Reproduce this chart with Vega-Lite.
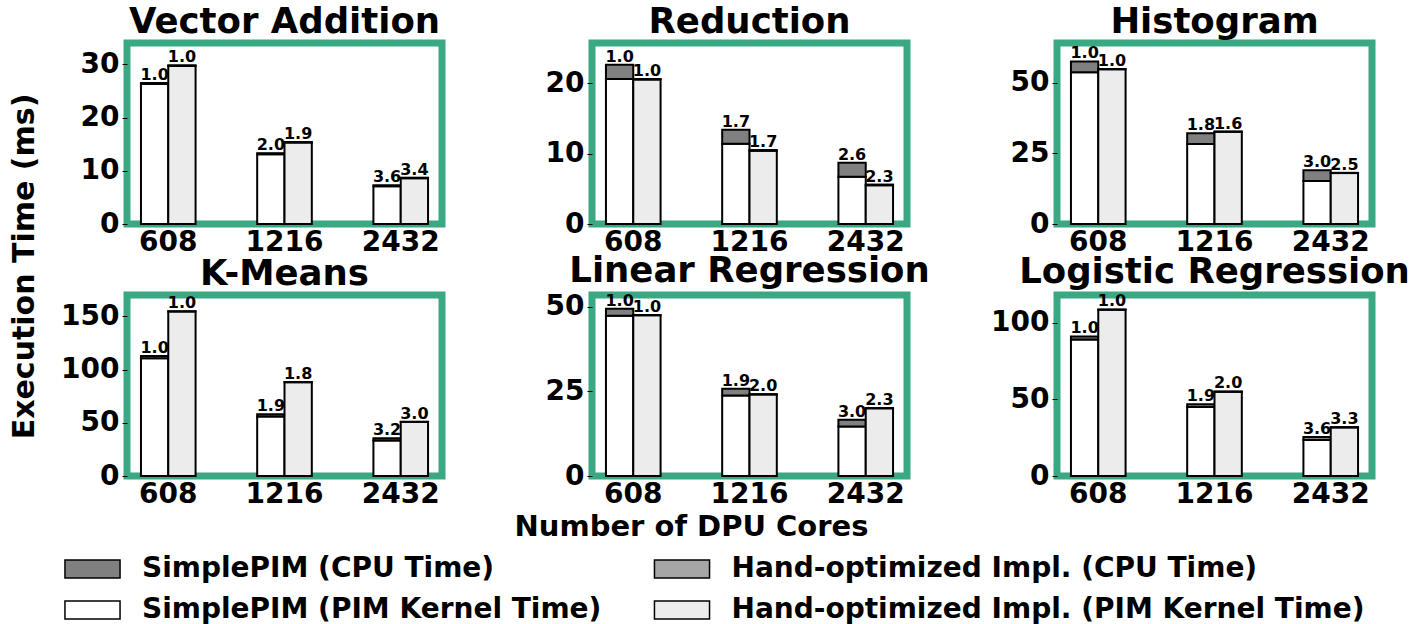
{
  "$schema": "https://vega.github.io/schema/vega-lite/v6.json",
  "padding": {"left": 5, "top": 1, "right": 5, "bottom": 5},
  "data": {"values": [
    {"app": "Vector Addition", "cores": "608", "impl": "SimplePIM", "part": "PIM Kernel Time", "series": "SimplePIM (PIM Kernel Time)", "time": 26.3, "speedup": "1.0"},
    {"app": "Vector Addition", "cores": "608", "impl": "SimplePIM", "part": "CPU Time", "series": "SimplePIM (CPU Time)", "time": 0.2, "speedup": "1.0"},
    {"app": "Vector Addition", "cores": "1216", "impl": "SimplePIM", "part": "PIM Kernel Time", "series": "SimplePIM (PIM Kernel Time)", "time": 13.1, "speedup": "2.0"},
    {"app": "Vector Addition", "cores": "1216", "impl": "SimplePIM", "part": "CPU Time", "series": "SimplePIM (CPU Time)", "time": 0.2, "speedup": "2.0"},
    {"app": "Vector Addition", "cores": "2432", "impl": "SimplePIM", "part": "PIM Kernel Time", "series": "SimplePIM (PIM Kernel Time)", "time": 7.1, "speedup": "3.6"},
    {"app": "Vector Addition", "cores": "2432", "impl": "SimplePIM", "part": "CPU Time", "series": "SimplePIM (CPU Time)", "time": 0.2, "speedup": "3.6"},
    {"app": "Vector Addition", "cores": "608", "impl": "Hand-optimized Impl.", "part": "PIM Kernel Time", "series": "Hand-optimized Impl. (PIM Kernel Time)", "time": 29.7, "speedup": "1.0"},
    {"app": "Vector Addition", "cores": "608", "impl": "Hand-optimized Impl.", "part": "CPU Time", "series": "Hand-optimized Impl. (CPU Time)", "time": 0.1, "speedup": "1.0"},
    {"app": "Vector Addition", "cores": "1216", "impl": "Hand-optimized Impl.", "part": "PIM Kernel Time", "series": "Hand-optimized Impl. (PIM Kernel Time)", "time": 15.3, "speedup": "1.9"},
    {"app": "Vector Addition", "cores": "1216", "impl": "Hand-optimized Impl.", "part": "CPU Time", "series": "Hand-optimized Impl. (CPU Time)", "time": 0.1, "speedup": "1.9"},
    {"app": "Vector Addition", "cores": "2432", "impl": "Hand-optimized Impl.", "part": "PIM Kernel Time", "series": "Hand-optimized Impl. (PIM Kernel Time)", "time": 8.6, "speedup": "3.4"},
    {"app": "Vector Addition", "cores": "2432", "impl": "Hand-optimized Impl.", "part": "CPU Time", "series": "Hand-optimized Impl. (CPU Time)", "time": 0.1, "speedup": "3.4"},

    {"app": "Reduction", "cores": "608", "impl": "SimplePIM", "part": "PIM Kernel Time", "series": "SimplePIM (PIM Kernel Time)", "time": 20.6, "speedup": "1.0"},
    {"app": "Reduction", "cores": "608", "impl": "SimplePIM", "part": "CPU Time", "series": "SimplePIM (CPU Time)", "time": 2.0, "speedup": "1.0"},
    {"app": "Reduction", "cores": "1216", "impl": "SimplePIM", "part": "PIM Kernel Time", "series": "SimplePIM (PIM Kernel Time)", "time": 11.4, "speedup": "1.7"},
    {"app": "Reduction", "cores": "1216", "impl": "SimplePIM", "part": "CPU Time", "series": "SimplePIM (CPU Time)", "time": 2.0, "speedup": "1.7"},
    {"app": "Reduction", "cores": "2432", "impl": "SimplePIM", "part": "PIM Kernel Time", "series": "SimplePIM (PIM Kernel Time)", "time": 6.7, "speedup": "2.6"},
    {"app": "Reduction", "cores": "2432", "impl": "SimplePIM", "part": "CPU Time", "series": "SimplePIM (CPU Time)", "time": 2.0, "speedup": "2.6"},
    {"app": "Reduction", "cores": "608", "impl": "Hand-optimized Impl.", "part": "PIM Kernel Time", "series": "Hand-optimized Impl. (PIM Kernel Time)", "time": 20.5, "speedup": "1.0"},
    {"app": "Reduction", "cores": "608", "impl": "Hand-optimized Impl.", "part": "CPU Time", "series": "Hand-optimized Impl. (CPU Time)", "time": 0.1, "speedup": "1.0"},
    {"app": "Reduction", "cores": "1216", "impl": "Hand-optimized Impl.", "part": "PIM Kernel Time", "series": "Hand-optimized Impl. (PIM Kernel Time)", "time": 10.4, "speedup": "1.7"},
    {"app": "Reduction", "cores": "1216", "impl": "Hand-optimized Impl.", "part": "CPU Time", "series": "Hand-optimized Impl. (CPU Time)", "time": 0.1, "speedup": "1.7"},
    {"app": "Reduction", "cores": "2432", "impl": "Hand-optimized Impl.", "part": "PIM Kernel Time", "series": "Hand-optimized Impl. (PIM Kernel Time)", "time": 5.5, "speedup": "2.3"},
    {"app": "Reduction", "cores": "2432", "impl": "Hand-optimized Impl.", "part": "CPU Time", "series": "Hand-optimized Impl. (CPU Time)", "time": 0.1, "speedup": "2.3"},

    {"app": "Histogram", "cores": "608", "impl": "SimplePIM", "part": "PIM Kernel Time", "series": "SimplePIM (PIM Kernel Time)", "time": 53.7, "speedup": "1.0"},
    {"app": "Histogram", "cores": "608", "impl": "SimplePIM", "part": "CPU Time", "series": "SimplePIM (CPU Time)", "time": 3.8, "speedup": "1.0"},
    {"app": "Histogram", "cores": "1216", "impl": "SimplePIM", "part": "PIM Kernel Time", "series": "SimplePIM (PIM Kernel Time)", "time": 28.3, "speedup": "1.8"},
    {"app": "Histogram", "cores": "1216", "impl": "SimplePIM", "part": "CPU Time", "series": "SimplePIM (CPU Time)", "time": 3.8, "speedup": "1.8"},
    {"app": "Histogram", "cores": "2432", "impl": "SimplePIM", "part": "PIM Kernel Time", "series": "SimplePIM (PIM Kernel Time)", "time": 15.2, "speedup": "3.0"},
    {"app": "Histogram", "cores": "2432", "impl": "SimplePIM", "part": "CPU Time", "series": "SimplePIM (CPU Time)", "time": 3.8, "speedup": "3.0"},
    {"app": "Histogram", "cores": "608", "impl": "Hand-optimized Impl.", "part": "PIM Kernel Time", "series": "Hand-optimized Impl. (PIM Kernel Time)", "time": 54.7, "speedup": "1.0"},
    {"app": "Histogram", "cores": "608", "impl": "Hand-optimized Impl.", "part": "CPU Time", "series": "Hand-optimized Impl. (CPU Time)", "time": 0.1, "speedup": "1.0"},
    {"app": "Histogram", "cores": "1216", "impl": "Hand-optimized Impl.", "part": "PIM Kernel Time", "series": "Hand-optimized Impl. (PIM Kernel Time)", "time": 32.6, "speedup": "1.6"},
    {"app": "Histogram", "cores": "1216", "impl": "Hand-optimized Impl.", "part": "CPU Time", "series": "Hand-optimized Impl. (CPU Time)", "time": 0.1, "speedup": "1.6"},
    {"app": "Histogram", "cores": "2432", "impl": "Hand-optimized Impl.", "part": "PIM Kernel Time", "series": "Hand-optimized Impl. (PIM Kernel Time)", "time": 18.0, "speedup": "2.5"},
    {"app": "Histogram", "cores": "2432", "impl": "Hand-optimized Impl.", "part": "CPU Time", "series": "Hand-optimized Impl. (CPU Time)", "time": 0.1, "speedup": "2.5"},

    {"app": "K-Means", "cores": "608", "impl": "SimplePIM", "part": "PIM Kernel Time", "series": "SimplePIM (PIM Kernel Time)", "time": 110.6, "speedup": "1.0"},
    {"app": "K-Means", "cores": "608", "impl": "SimplePIM", "part": "CPU Time", "series": "SimplePIM (CPU Time)", "time": 2.0, "speedup": "1.0"},
    {"app": "K-Means", "cores": "1216", "impl": "SimplePIM", "part": "PIM Kernel Time", "series": "SimplePIM (PIM Kernel Time)", "time": 56.0, "speedup": "1.9"},
    {"app": "K-Means", "cores": "1216", "impl": "SimplePIM", "part": "CPU Time", "series": "SimplePIM (CPU Time)", "time": 2.0, "speedup": "1.9"},
    {"app": "K-Means", "cores": "2432", "impl": "SimplePIM", "part": "PIM Kernel Time", "series": "SimplePIM (PIM Kernel Time)", "time": 33.4, "speedup": "3.2"},
    {"app": "K-Means", "cores": "2432", "impl": "SimplePIM", "part": "CPU Time", "series": "SimplePIM (CPU Time)", "time": 2.0, "speedup": "3.2"},
    {"app": "K-Means", "cores": "608", "impl": "Hand-optimized Impl.", "part": "PIM Kernel Time", "series": "Hand-optimized Impl. (PIM Kernel Time)", "time": 154.5, "speedup": "1.0"},
    {"app": "K-Means", "cores": "608", "impl": "Hand-optimized Impl.", "part": "CPU Time", "series": "Hand-optimized Impl. (CPU Time)", "time": 0.2, "speedup": "1.0"},
    {"app": "K-Means", "cores": "1216", "impl": "Hand-optimized Impl.", "part": "PIM Kernel Time", "series": "Hand-optimized Impl. (PIM Kernel Time)", "time": 88.1, "speedup": "1.8"},
    {"app": "K-Means", "cores": "1216", "impl": "Hand-optimized Impl.", "part": "CPU Time", "series": "Hand-optimized Impl. (CPU Time)", "time": 0.2, "speedup": "1.8"},
    {"app": "K-Means", "cores": "2432", "impl": "Hand-optimized Impl.", "part": "PIM Kernel Time", "series": "Hand-optimized Impl. (PIM Kernel Time)", "time": 50.8, "speedup": "3.0"},
    {"app": "K-Means", "cores": "2432", "impl": "Hand-optimized Impl.", "part": "CPU Time", "series": "Hand-optimized Impl. (CPU Time)", "time": 0.2, "speedup": "3.0"},

    {"app": "Linear Regression", "cores": "608", "impl": "SimplePIM", "part": "PIM Kernel Time", "series": "SimplePIM (PIM Kernel Time)", "time": 47.4, "speedup": "1.0"},
    {"app": "Linear Regression", "cores": "608", "impl": "SimplePIM", "part": "CPU Time", "series": "SimplePIM (CPU Time)", "time": 2.0, "speedup": "1.0"},
    {"app": "Linear Regression", "cores": "1216", "impl": "SimplePIM", "part": "PIM Kernel Time", "series": "SimplePIM (PIM Kernel Time)", "time": 23.8, "speedup": "1.9"},
    {"app": "Linear Regression", "cores": "1216", "impl": "SimplePIM", "part": "CPU Time", "series": "SimplePIM (CPU Time)", "time": 2.0, "speedup": "1.9"},
    {"app": "Linear Regression", "cores": "2432", "impl": "SimplePIM", "part": "PIM Kernel Time", "series": "SimplePIM (PIM Kernel Time)", "time": 14.6, "speedup": "3.0"},
    {"app": "Linear Regression", "cores": "2432", "impl": "SimplePIM", "part": "CPU Time", "series": "SimplePIM (CPU Time)", "time": 2.0, "speedup": "3.0"},
    {"app": "Linear Regression", "cores": "608", "impl": "Hand-optimized Impl.", "part": "PIM Kernel Time", "series": "Hand-optimized Impl. (PIM Kernel Time)", "time": 47.5, "speedup": "1.0"},
    {"app": "Linear Regression", "cores": "608", "impl": "Hand-optimized Impl.", "part": "CPU Time", "series": "Hand-optimized Impl. (CPU Time)", "time": 0.1, "speedup": "1.0"},
    {"app": "Linear Regression", "cores": "1216", "impl": "Hand-optimized Impl.", "part": "PIM Kernel Time", "series": "Hand-optimized Impl. (PIM Kernel Time)", "time": 24.1, "speedup": "2.0"},
    {"app": "Linear Regression", "cores": "1216", "impl": "Hand-optimized Impl.", "part": "CPU Time", "series": "Hand-optimized Impl. (CPU Time)", "time": 0.1, "speedup": "2.0"},
    {"app": "Linear Regression", "cores": "2432", "impl": "Hand-optimized Impl.", "part": "PIM Kernel Time", "series": "Hand-optimized Impl. (PIM Kernel Time)", "time": 20.0, "speedup": "2.3"},
    {"app": "Linear Regression", "cores": "2432", "impl": "Hand-optimized Impl.", "part": "CPU Time", "series": "Hand-optimized Impl. (CPU Time)", "time": 0.1, "speedup": "2.3"},

    {"app": "Logistic Regression", "cores": "608", "impl": "SimplePIM", "part": "PIM Kernel Time", "series": "SimplePIM (PIM Kernel Time)", "time": 89.0, "speedup": "1.0"},
    {"app": "Logistic Regression", "cores": "608", "impl": "SimplePIM", "part": "CPU Time", "series": "SimplePIM (CPU Time)", "time": 2.0, "speedup": "1.0"},
    {"app": "Logistic Regression", "cores": "1216", "impl": "SimplePIM", "part": "PIM Kernel Time", "series": "SimplePIM (PIM Kernel Time)", "time": 45.0, "speedup": "1.9"},
    {"app": "Logistic Regression", "cores": "1216", "impl": "SimplePIM", "part": "CPU Time", "series": "SimplePIM (CPU Time)", "time": 1.7, "speedup": "1.9"},
    {"app": "Logistic Regression", "cores": "2432", "impl": "SimplePIM", "part": "PIM Kernel Time", "series": "SimplePIM (PIM Kernel Time)", "time": 23.4, "speedup": "3.6"},
    {"app": "Logistic Regression", "cores": "2432", "impl": "SimplePIM", "part": "CPU Time", "series": "SimplePIM (CPU Time)", "time": 2.0, "speedup": "3.6"},
    {"app": "Logistic Regression", "cores": "608", "impl": "Hand-optimized Impl.", "part": "PIM Kernel Time", "series": "Hand-optimized Impl. (PIM Kernel Time)", "time": 108.4, "speedup": "1.0"},
    {"app": "Logistic Regression", "cores": "608", "impl": "Hand-optimized Impl.", "part": "CPU Time", "series": "Hand-optimized Impl. (CPU Time)", "time": 0.2, "speedup": "1.0"},
    {"app": "Logistic Regression", "cores": "1216", "impl": "Hand-optimized Impl.", "part": "PIM Kernel Time", "series": "Hand-optimized Impl. (PIM Kernel Time)", "time": 54.9, "speedup": "2.0"},
    {"app": "Logistic Regression", "cores": "1216", "impl": "Hand-optimized Impl.", "part": "CPU Time", "series": "Hand-optimized Impl. (CPU Time)", "time": 0.2, "speedup": "2.0"},
    {"app": "Logistic Regression", "cores": "2432", "impl": "Hand-optimized Impl.", "part": "PIM Kernel Time", "series": "Hand-optimized Impl. (PIM Kernel Time)", "time": 31.7, "speedup": "3.3"},
    {"app": "Logistic Regression", "cores": "2432", "impl": "Hand-optimized Impl.", "part": "CPU Time", "series": "Hand-optimized Impl. (CPU Time)", "time": 0.2, "speedup": "3.3"}
  ]},
  "columns": 3,
  "bounds": "flush",
  "spacing": {"row": 71, "column": 150},
  "concat": [
    {
      "title": "Vector Addition", "width": 315, "height": 181,
      "transform": [{"filter": "datum.app === 'Vector Addition'"}],
      "encoding": {
        "x": {"field": "cores", "type": "ordinal", "sort": ["608", "1216", "2432"], "scale": {"paddingInner": 0.53, "paddingOuter": 0.12}, "axis": {"title": null}},
        "xOffset": {"field": "impl", "type": "nominal", "sort": ["SimplePIM", "Hand-optimized Impl."], "scale": {"paddingInner": 0, "paddingOuter": 0}}
      },
      "layer": [
        {"mark": {"type": "bar", "stroke": "black", "strokeWidth": 2},
         "encoding": {
           "y": {"field": "time", "type": "quantitative", "stack": "zero", "scale": {"domain": [0, 34], "nice": false}, "axis": {"values": [0, 10, 20, 30], "title": "Execution Time (ms)", "titleX": -88, "titleY": 223}},
           "color": {"field": "series", "type": "nominal", "scale": {"domain": ["SimplePIM (CPU Time)", "SimplePIM (PIM Kernel Time)", "Hand-optimized Impl. (CPU Time)", "Hand-optimized Impl. (PIM Kernel Time)"], "range": ["#808080", "#ffffff", "#a6a6a6", "#ececec"]}, "legend": {"title": null}},
           "order": {"field": "part", "sort": "descending"}}},
        {"transform": [{"aggregate": [{"op": "sum", "field": "time", "as": "total"}], "groupby": ["cores", "impl", "speedup"]}],
         "mark": {"type": "text", "fontSize": 16, "fontWeight": "bold", "baseline": "alphabetic", "dy": -3},
         "encoding": {"y": {"field": "total", "type": "quantitative", "axis": {"values": [0, 10, 20, 30], "title": "Execution Time (ms)", "titleX": -88, "titleY": 223}}, "text": {"field": "speedup", "type": "nominal"}}}
      ]
    },
    {
      "title": "Reduction", "width": 315, "height": 181,
      "transform": [{"filter": "datum.app === 'Reduction'"}],
      "encoding": {
        "x": {"field": "cores", "type": "ordinal", "sort": ["608", "1216", "2432"], "scale": {"paddingInner": 0.53, "paddingOuter": 0.12}, "axis": {"title": null}},
        "xOffset": {"field": "impl", "type": "nominal", "sort": ["SimplePIM", "Hand-optimized Impl."], "scale": {"paddingInner": 0, "paddingOuter": 0}}
      },
      "layer": [
        {"mark": {"type": "bar", "stroke": "black", "strokeWidth": 2},
         "encoding": {
           "y": {"field": "time", "type": "quantitative", "stack": "zero", "scale": {"domain": [0, 25.7], "nice": false}, "axis": {"values": [0, 10, 20], "title": null}},
           "color": {"field": "series", "type": "nominal", "legend": {"title": null}},
           "order": {"field": "part", "sort": "descending"}}},
        {"transform": [{"aggregate": [{"op": "sum", "field": "time", "as": "total"}], "groupby": ["cores", "impl", "speedup"]}],
         "mark": {"type": "text", "fontSize": 16, "fontWeight": "bold", "baseline": "alphabetic", "dy": -3},
         "encoding": {"y": {"field": "total", "type": "quantitative", "axis": {"values": [0, 10, 20], "title": null}}, "text": {"field": "speedup", "type": "nominal"}}}
      ]
    },
    {
      "title": "Histogram", "width": 315, "height": 181,
      "transform": [{"filter": "datum.app === 'Histogram'"}],
      "encoding": {
        "x": {"field": "cores", "type": "ordinal", "sort": ["608", "1216", "2432"], "scale": {"paddingInner": 0.53, "paddingOuter": 0.12}, "axis": {"title": null}},
        "xOffset": {"field": "impl", "type": "nominal", "sort": ["SimplePIM", "Hand-optimized Impl."], "scale": {"paddingInner": 0, "paddingOuter": 0}}
      },
      "layer": [
        {"mark": {"type": "bar", "stroke": "black", "strokeWidth": 2},
         "encoding": {
           "y": {"field": "time", "type": "quantitative", "stack": "zero", "scale": {"domain": [0, 64], "nice": false}, "axis": {"values": [0, 25, 50], "title": null}},
           "color": {"field": "series", "type": "nominal", "legend": {"title": null}},
           "order": {"field": "part", "sort": "descending"}}},
        {"transform": [{"aggregate": [{"op": "sum", "field": "time", "as": "total"}], "groupby": ["cores", "impl", "speedup"]}],
         "mark": {"type": "text", "fontSize": 16, "fontWeight": "bold", "baseline": "alphabetic", "dy": -3},
         "encoding": {"y": {"field": "total", "type": "quantitative", "axis": {"values": [0, 25, 50], "title": null}}, "text": {"field": "speedup", "type": "nominal"}}}
      ]
    },
    {
      "title": "K-Means", "width": 315, "height": 181,
      "transform": [{"filter": "datum.app === 'K-Means'"}],
      "encoding": {
        "x": {"field": "cores", "type": "ordinal", "sort": ["608", "1216", "2432"], "scale": {"paddingInner": 0.53, "paddingOuter": 0.12}, "axis": {"title": null}},
        "xOffset": {"field": "impl", "type": "nominal", "sort": ["SimplePIM", "Hand-optimized Impl."], "scale": {"paddingInner": 0, "paddingOuter": 0}}
      },
      "layer": [
        {"mark": {"type": "bar", "stroke": "black", "strokeWidth": 2},
         "encoding": {
           "y": {"field": "time", "type": "quantitative", "stack": "zero", "scale": {"domain": [0, 170], "nice": false}, "axis": {"values": [0, 50, 100, 150], "title": null}},
           "color": {"field": "series", "type": "nominal", "legend": {"title": null}},
           "order": {"field": "part", "sort": "descending"}}},
        {"transform": [{"aggregate": [{"op": "sum", "field": "time", "as": "total"}], "groupby": ["cores", "impl", "speedup"]}],
         "mark": {"type": "text", "fontSize": 16, "fontWeight": "bold", "baseline": "alphabetic", "dy": -3},
         "encoding": {"y": {"field": "total", "type": "quantitative", "axis": {"values": [0, 50, 100, 150], "title": null}}, "text": {"field": "speedup", "type": "nominal"}}}
      ]
    },
    {
      "title": "Linear Regression", "width": 315, "height": 181,
      "transform": [{"filter": "datum.app === 'Linear Regression'"}],
      "encoding": {
        "x": {"field": "cores", "type": "ordinal", "sort": ["608", "1216", "2432"], "scale": {"paddingInner": 0.53, "paddingOuter": 0.12}, "axis": {"title": "Number of DPU Cores", "titleX": 99}},
        "xOffset": {"field": "impl", "type": "nominal", "sort": ["SimplePIM", "Hand-optimized Impl."], "scale": {"paddingInner": 0, "paddingOuter": 0}}
      },
      "layer": [
        {"mark": {"type": "bar", "stroke": "black", "strokeWidth": 2},
         "encoding": {
           "y": {"field": "time", "type": "quantitative", "stack": "zero", "scale": {"domain": [0, 53.5], "nice": false}, "axis": {"values": [0, 25, 50], "title": null}},
           "color": {"field": "series", "type": "nominal", "legend": {"title": null}},
           "order": {"field": "part", "sort": "descending"}}},
        {"transform": [{"aggregate": [{"op": "sum", "field": "time", "as": "total"}], "groupby": ["cores", "impl", "speedup"]}],
         "mark": {"type": "text", "fontSize": 16, "fontWeight": "bold", "baseline": "alphabetic", "dy": -3},
         "encoding": {"y": {"field": "total", "type": "quantitative", "axis": {"values": [0, 25, 50], "title": null}}, "text": {"field": "speedup", "type": "nominal"}}}
      ]
    },
    {
      "title": "Logistic Regression", "width": 315, "height": 181,
      "transform": [{"filter": "datum.app === 'Logistic Regression'"}],
      "encoding": {
        "x": {"field": "cores", "type": "ordinal", "sort": ["608", "1216", "2432"], "scale": {"paddingInner": 0.53, "paddingOuter": 0.12}, "axis": {"title": null}},
        "xOffset": {"field": "impl", "type": "nominal", "sort": ["SimplePIM", "Hand-optimized Impl."], "scale": {"paddingInner": 0, "paddingOuter": 0}}
      },
      "layer": [
        {"mark": {"type": "bar", "stroke": "black", "strokeWidth": 2},
         "encoding": {
           "y": {"field": "time", "type": "quantitative", "stack": "zero", "scale": {"domain": [0, 118], "nice": false}, "axis": {"values": [0, 50, 100], "title": null}},
           "color": {"field": "series", "type": "nominal", "legend": {"title": null}},
           "order": {"field": "part", "sort": "descending"}}},
        {"transform": [{"aggregate": [{"op": "sum", "field": "time", "as": "total"}], "groupby": ["cores", "impl", "speedup"]}],
         "mark": {"type": "text", "fontSize": 16, "fontWeight": "bold", "baseline": "alphabetic", "dy": -3},
         "encoding": {"y": {"field": "total", "type": "quantitative", "axis": {"values": [0, 50, 100], "title": null}}, "text": {"field": "speedup", "type": "nominal"}}}
      ]
    }
  ],
  "config": {
    "font": "DejaVu Sans",
    "view": {"stroke": "#3aa882", "strokeWidth": 7},
    "title": {"fontSize": 35.5, "fontWeight": "bold", "color": "black", "offset": 3},
    "axis": {"labelFontSize": 28, "labelFontWeight": "bold", "labelColor": "black", "grid": false, "domain": false, "tickColor": "black", "tickSize": 5, "labelPadding": 3, "titleFontSize": 30, "titleFontWeight": "bold", "titleColor": "black"},
    "axisX": {"labelAngle": 0, "ticks": false, "labelPadding": 4, "titlePadding": 4, "titleFontSize": 29},
    "legend": {"orient": "none", "legendX": -48.5, "legendY": 512, "direction": "vertical", "columns": 2, "labelFontSize": 28, "labelFontWeight": "bold", "labelColor": "black", "labelLimit": 800, "symbolSize": 324, "symbolType": "M-3.06,-1L3.06,-1L3.06,1L-3.06,1Z", "symbolStrokeColor": "black", "symbolStrokeWidth": 1.5, "labelOffset": 35.5, "columnPadding": 49.5, "rowPadding": 13}
  }
}
